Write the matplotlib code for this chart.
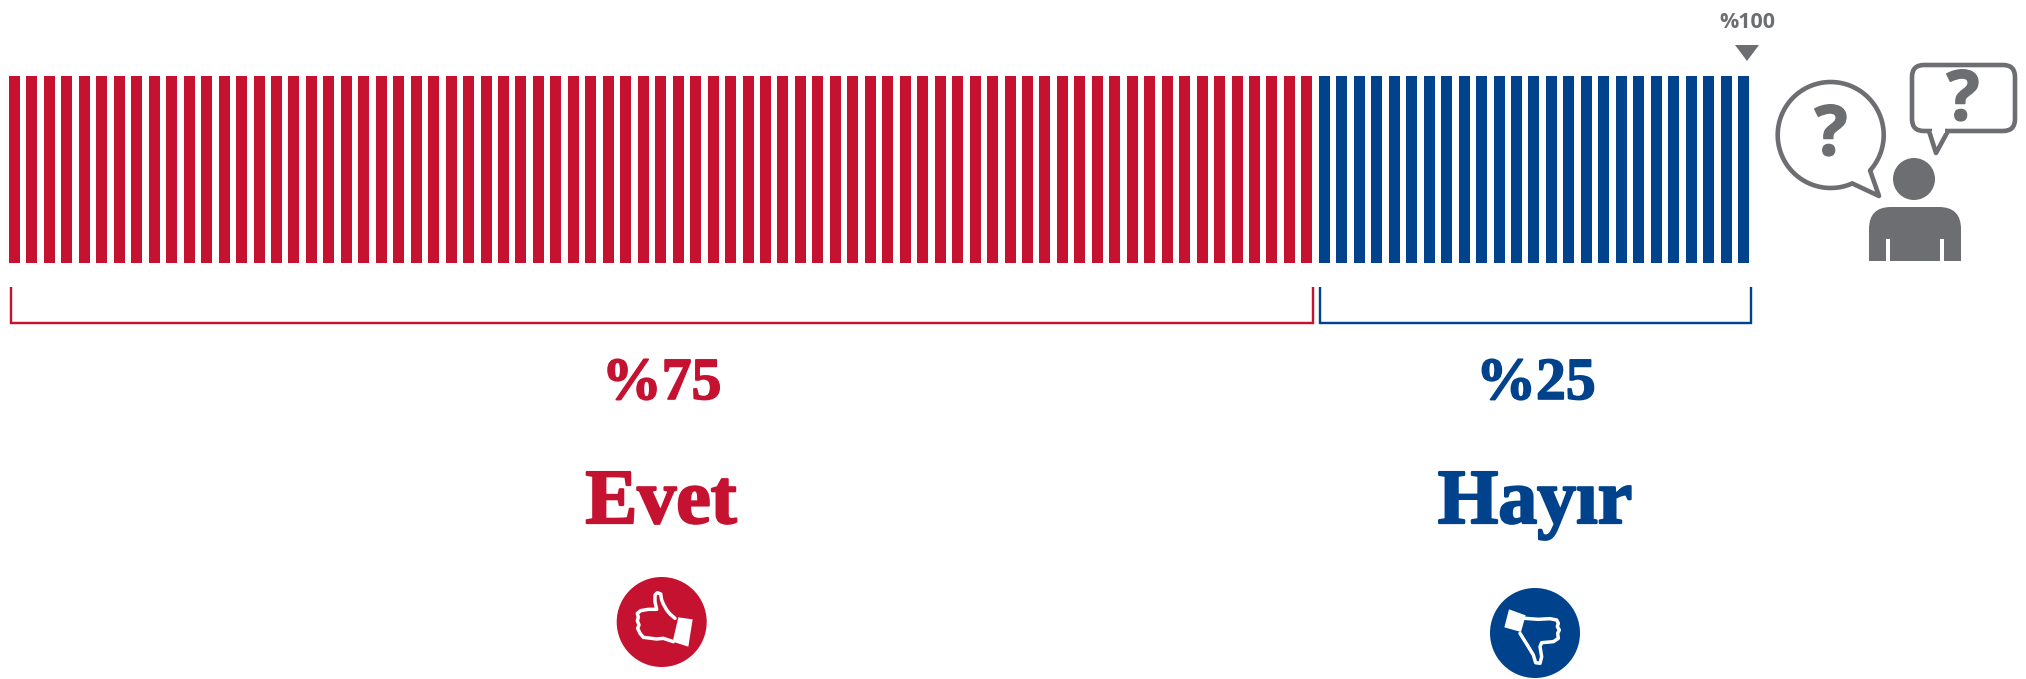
import matplotlib
matplotlib.use("Agg")
import matplotlib.pyplot as plt
import matplotlib.patheffects as pe
from matplotlib.patches import Circle, Polygon, FancyBboxPatch, PathPatch, Rectangle
from matplotlib.path import Path
import numpy as np

categories = ["Evet", "Hayır"]
shares = [75, 25]
share_labels = ["%75", "%25"]
total_label = "%100"
RED, BLUE, GRAY = "#C41230", "#00428B", "#6D6E71"
colors = [RED, BLUE]

W, H = 2026, 679
fig = plt.figure(figsize=(W / 100, H / 100), dpi=100, facecolor="white")

PITCH, X0, BW = 17.465, 14.5, 11.0
top, bottom = 76.0, 263.0
axb = fig.add_axes([0, 0, 1, 1])
axb.set_xlim((0 - X0) / PITCH, (W - X0) / PITCH)
axb.set_ylim((bottom - H) / (bottom - top), bottom / (bottom - top))
axb.axis("off")
start = 0
for share, c in zip(shares, colors):
    xs = np.arange(start, start + share)
    axb.bar(xs, [1] * share, width=BW / PITCH, bottom=0, color=c, linewidth=0, align="center")
    start += share

ax = fig.add_axes([0, 0, 1, 1])
ax.set_xlim(0, W)
ax.set_ylim(H, 0)
ax.axis("off")
ax.patch.set_alpha(0)

LW = 2.4 * 0.72
brackets = [(11, 1312.5), (1320, 1751)]
for (x0, x1), c in zip(brackets, colors):
    ax.plot([x0, x0, x1, x1], [287, 322.5, 322.5, 287], color=c, lw=LW,
            solid_joinstyle="miter", solid_capstyle="butt")

serif = "Liberation Serif"
stroke = lambda c, w=1.2: [pe.withStroke(linewidth=w, foreground=c)]
for lab, c, x, y in zip(share_labels, colors, [661.7, 1536], [399, 399]):
    ax.text(x, y, lab, color=c, family=serif, weight="bold", fontsize=43,
            ha="center", va="baseline", path_effects=stroke(c))
for lab, c, x, y in zip(categories, colors, [661, 1535], [523, 523]):
    ax.text(x, y, lab, color=c, family=serif, weight="bold", fontsize=56,
            ha="center", va="baseline", path_effects=stroke(c, 1.6))

def zp(pts, ox, oy):
    return [(ox + a / 3, oy + b / 3) for a, b in pts]

ax.add_patch(Circle((661.7, 622), 45, fc=RED, ec="none"))
ax.add_patch(Circle((1535, 633), 45, fc=BLUE, ec="none"))

up = [(165, 115), (150, 102), (140, 90), (130, 72), (125, 60), (122, 42), (112, 38), (105, 45), (105, 65),
      (110, 88), (85, 88), (62, 92), (52, 100), (55, 112), (52, 122), (57, 135), (53, 145), (60, 160),
      (70, 172), (110, 177), (130, 175), (160, 185)]
upc = [(175, 112), (218, 118), (205, 200), (158, 185)]
down = [(90, 85), (130, 88), (165, 86), (185, 90), (190, 100), (187, 110), (193, 120), (188, 130),
        (190, 145), (175, 155), (140, 158), (135, 170), (140, 200), (135, 220), (122, 218), (115, 195),
        (100, 170), (75, 130)]
downc = [(42, 58), (92, 76), (78, 126), (28, 112)]
for pts, cuff, ox, oy in [(up, upc, 620, 580), (down, downc, 1495, 590)]:
    p = zp(pts, ox, oy)
    ax.plot(*zip(*p), color="white", lw=2.5, solid_joinstyle="round", solid_capstyle="round")
    ax.add_patch(Polygon(zp(cuff, ox, oy), closed=True, fc="white", ec="none"))

ax.text(1747, 28, total_label, color=GRAY, family="Open Sans", weight="bold", fontsize=15.5,
        ha="center", va="baseline")
ax.add_patch(Polygon([(1735, 45), (1759, 45), (1747, 61)], closed=True, fc=GRAY, ec="none"))

LW2 = 4.6 * 0.72
cx, cy, r = 1830.7, 135, 53
a0, a1 = np.deg2rad(42), np.deg2rad(66)
theta = np.linspace(a1, a0 + 2 * np.pi, 120)
arc = np.c_[cx + r * np.cos(theta), cy + r * np.sin(theta)]
verts = np.vstack([arc, [[1879, 196]], arc[:1]])
ax.add_patch(Polygon(verts, closed=True, fc="white", ec=GRAY, lw=LW2, joinstyle="round"))
ax.text(1831, 155, "?", color=GRAY, family="Open Sans", weight="bold", fontsize=50,
        ha="center", va="baseline", path_effects=stroke(GRAY, 1.0))

ax.add_patch(FancyBboxPatch((1912, 65), 103, 66, boxstyle="round,pad=0,rounding_size=12",
                            fc="white", ec=GRAY, lw=LW2, mutation_aspect=1))
ax.add_patch(Polygon([(1929, 131), (1936, 153), (1948, 131)], closed=False, fc="white", ec=GRAY,
                     lw=LW2, joinstyle="round"))
ax.add_patch(Rectangle((1932, 128), 13, 5, fc="white", ec="none"))
ax.text(1963, 120, "?", color=GRAY, family="Open Sans", weight="bold", fontsize=50,
        ha="center", va="baseline", path_effects=stroke(GRAY, 1.0))

ax.add_patch(Circle((1914, 179), 21, fc=GRAY, ec="none"))
body = Path([(1869, 261), (1869, 229), (1869, 207), (1891, 207), (1939, 207), (1961, 207),
             (1961, 229), (1961, 261), (1869, 261)],
            [Path.MOVETO, Path.LINETO, Path.CURVE3, Path.CURVE3, Path.LINETO, Path.CURVE3,
             Path.CURVE3, Path.LINETO, Path.CLOSEPOLY])
ax.add_patch(PathPatch(body, fc=GRAY, ec="none"))
for x in (1886, 1940):
    ax.add_patch(Rectangle((x, 239), 4, 23, fc="white", ec="none"))

fig.savefig("out.png", dpi=100, facecolor="white")
